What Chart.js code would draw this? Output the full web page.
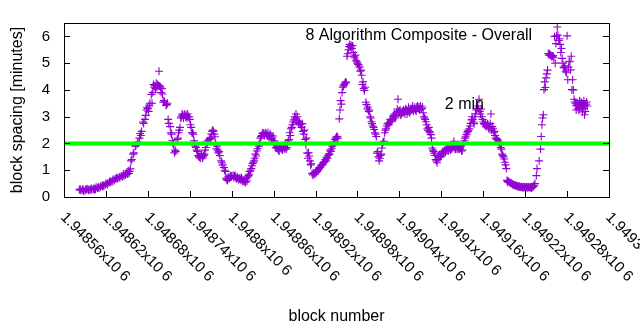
<!DOCTYPE html>
<html>
<head>
<meta charset="utf-8">
<title>Block spacing</title>
<script src="https://cdn.jsdelivr.net/npm/chart.js@4.4.0/dist/chart.umd.min.js"></script>
<style>
    html, body { margin: 0; padding: 0; background: #fff; }
    #wrap { width: 640px; height: 330px; }
</style>
</head>
<body>
<div id="wrap"><canvas id="spacingChart"></canvas></div>
<script>
// block numbers and the spacing (minutes) measured at each block
const blockNumbers = [
    1948582, 1948584, 1948587, 1948590, 1948592, 1948594, 1948596, 1948599, 1948600, 1948603,
    1948605, 1948606, 1948609, 1948610, 1948613, 1948616, 1948617, 1948620, 1948622, 1948625,
    1948626, 1948629, 1948630, 1948633, 1948635, 1948637, 1948639, 1948642, 1948645, 1948646,
    1948649, 1948652, 1948653, 1948655, 1948656, 1948659, 1948662, 1948665, 1948668, 1948669,
    1948670, 1948673, 1948676, 1948678, 1948680, 1948682, 1948685, 1948686, 1948689, 1948690,
    1948692, 1948693, 1948695, 1948696, 1948698, 1948699, 1948700, 1948702, 1948703, 1948706,
    1948708, 1948709, 1948712, 1948713, 1948715, 1948716, 1948718, 1948719, 1948722, 1948723,
    1948725, 1948726, 1948728, 1948729, 1948731, 1948732, 1948733, 1948735, 1948736, 1948738,
    1948739, 1948741, 1948742, 1948743, 1948745, 1948746, 1948748, 1948749, 1948751, 1948752,
    1948753, 1948755, 1948756, 1948758, 1948761, 1948763, 1948765, 1948768, 1948769, 1948772,
    1948773, 1948775, 1948778, 1948779, 1948782, 1948785, 1948786, 1948789, 1948791, 1948793,
    1948796, 1948799, 1948802, 1948804, 1948806, 1948809, 1948811, 1948814, 1948815, 1948818,
    1948819, 1948822, 1948825, 1948828, 1948829, 1948832, 1948835, 1948836, 1948839, 1948842,
    1948844, 1948846, 1948849, 1948851, 1948854, 1948856, 1948858, 1948861, 1948864, 1948865,
    1948868, 1948871, 1948872, 1948875, 1948878, 1948879, 1948882, 1948885, 1948887, 1948889,
    1948892, 1948894, 1948897, 1948899, 1948901, 1948904, 1948907, 1948908, 1948911, 1948914,
    1948915, 1948918, 1948921, 1948922, 1948925, 1948928, 1948929, 1948932, 1948935, 1948937,
    1948939, 1948942, 1948944, 1948947, 1948949, 1948951, 1948954, 1948955, 1948957, 1948958,
    1948961, 1948964, 1948965, 1948967, 1948968, 1948969, 1948971, 1948972, 1948975, 1948977,
    1948978, 1948980, 1948982, 1948985, 1948987, 1948988, 1948990, 1948991, 1948992, 1948994,
    1948997, 1949000, 1949001, 1949004, 1949005, 1949007, 1949008, 1949011, 1949014, 1949015,
    1949018, 1949021, 1949023, 1949025, 1949028, 1949030, 1949033, 1949035, 1949037, 1949038,
    1949040, 1949043, 1949044, 1949047, 1949050, 1949051, 1949054, 1949057, 1949058, 1949061,
    1949064, 1949065, 1949068, 1949071, 1949073, 1949075, 1949078, 1949080, 1949083, 1949085,
    1949087, 1949090, 1949093, 1949094, 1949097, 1949100, 1949101, 1949104, 1949107, 1949108,
    1949111, 1949114, 1949116, 1949118, 1949121, 1949123, 1949126, 1949128, 1949130, 1949133,
    1949136, 1949137, 1949140, 1949143, 1949144, 1949147, 1949150, 1949151, 1949154, 1949157,
    1949158, 1949161, 1949164, 1949166, 1949168, 1949171, 1949173, 1949176, 1949178, 1949180,
    1949183, 1949186, 1949187, 1949190, 1949193, 1949194, 1949195, 1949200, 1949201, 1949204,
    1949207, 1949211, 1949216, 1949219, 1949221, 1949226, 1949230, 1949233, 1949236, 1949237,
    1949240, 1949242, 1949243, 1949244, 1949246, 1949247, 1949249, 1949250, 1949252, 1949253,
    1949256, 1949257, 1949259, 1949262, 1949263, 1949264, 1949266, 1949268, 1949269, 1949272,
    1949273, 1949276, 1949277, 1949279, 1949280, 1949281, 1949283, 1949286, 1949287, 1949288,
    1949290, 1949291, 1949293, 1949293, 1949295, 1949297, 1949297, 1949298, 1949300, 1949300,
    1949302, 1949302, 1949304, 1949305, 1949305, 1949307,
    1948583, 1948586, 1948588, 1948591, 1948595, 1948598, 1948602, 1948604, 1948608, 1948612,
    1948615, 1948619, 1948623, 1948627, 1948632, 1948636, 1948640, 1948644, 1948648, 1948651,
    1948654, 1948657, 1948660, 1948663, 1948666, 1948671, 1948674, 1948677, 1948679, 1948681,
    1948683, 1948687, 1948688, 1948691, 1948694, 1948697, 1948701, 1948704, 1948707, 1948710,
    1948714, 1948717, 1948720, 1948724, 1948727, 1948730, 1948734, 1948737, 1948740, 1948744,
    1948747, 1948750, 1948754, 1948757, 1948759, 1948760, 1948762, 1948764, 1948766, 1948770,
    1948771, 1948774, 1948776, 1948777, 1948780, 1948781, 1948783, 1948787, 1948790, 1948792,
    1948794, 1948795, 1948797, 1948798, 1948800, 1948803, 1948805, 1948807, 1948808, 1948810,
    1948812, 1948813, 1948816, 1948817, 1948820, 1948821, 1948823, 1948824, 1948826, 1948827,
    1948830, 1948831, 1948833, 1948834, 1948837, 1948838, 1948840, 1948841, 1948843, 1948845,
    1948847, 1948848, 1948850, 1948852, 1948853, 1948855, 1948857, 1948859, 1948860, 1948862,
    1948863, 1948866, 1948867, 1948869, 1948870, 1948873, 1948874, 1948876, 1948877, 1948880,
    1948881, 1948883, 1948884, 1948886, 1948888, 1948890, 1948891, 1948893, 1948895, 1948896,
    1948898, 1948900, 1948902, 1948903, 1948905, 1948906, 1948909, 1948910, 1948912, 1948913,
    1948916, 1948917, 1948919, 1948920, 1948923, 1948924, 1948926, 1948927, 1948930, 1948931,
    1948933, 1948934, 1948936, 1948938, 1948940, 1948941, 1948943, 1948945, 1948946, 1948948,
    1948950, 1948952, 1948956, 1948959, 1948960, 1948962, 1948963, 1948966, 1948970, 1948973,
    1948974, 1948976, 1948979, 1948981, 1948983, 1948984, 1948986, 1948989, 1948993, 1948995,
    1948996, 1948998, 1948999, 1949002, 1949003, 1949006, 1949009, 1949010, 1949012, 1949013,
    1949016, 1949017, 1949019, 1949020, 1949022, 1949024, 1949026, 1949027, 1949029, 1949031,
    1949032, 1949034, 1949036, 1949039, 1949041, 1949042, 1949045, 1949046, 1949048, 1949049,
    1949052, 1949053, 1949055, 1949056, 1949059, 1949060, 1949062, 1949063, 1949066, 1949067,
    1949069, 1949070, 1949072, 1949074, 1949076, 1949077, 1949079, 1949081, 1949082, 1949084,
    1949086, 1949088, 1949089, 1949091, 1949092, 1949095, 1949096, 1949098, 1949099, 1949102,
    1949103, 1949105, 1949106, 1949109, 1949110, 1949112, 1949113, 1949115, 1949117, 1949119,
    1949120, 1949122, 1949124, 1949125, 1949127, 1949129, 1949131, 1949132, 1949134, 1949135,
    1949138, 1949139, 1949141, 1949142, 1949145, 1949146, 1949148, 1949149, 1949152, 1949153,
    1949155, 1949156, 1949159, 1949160, 1949162, 1949163, 1949165, 1949167, 1949169, 1949170,
    1949172, 1949174, 1949175, 1949177, 1949179, 1949181, 1949182, 1949184, 1949185, 1949188,
    1949189, 1949191, 1949192, 1949195, 1949196, 1949198, 1949199, 1949202, 1949203, 1949205,
    1949206, 1949208, 1949209, 1949210, 1949212, 1949213, 1949214, 1949215, 1949217, 1949218,
    1949220, 1949222, 1949223, 1949224, 1949225, 1949227, 1949228, 1949229, 1949231, 1949232,
    1949234, 1949245, 1949248, 1949251, 1949254, 1949255, 1949258, 1949260, 1949261, 1949265,
    1949267, 1949270, 1949271, 1949274, 1949275, 1949278, 1949282, 1949284, 1949285, 1949289,
    1949292, 1949294, 1949296, 1949299, 1949301, 1949303, 1949304, 1949306, 1949308, 1949309
];
const spacingMinutes = [
    0.27, 0.25, 0.30, 0.24, 0.28, 0.31, 0.27, 0.32, 0.28, 0.33,
    0.30, 0.36, 0.38, 0.34, 0.42, 0.45, 0.40, 0.50, 0.47, 0.55,
    0.60, 0.58, 0.65, 0.68, 0.72, 0.70, 0.75, 0.78, 0.85, 0.80,
    0.90, 0.98, 0.88, 1.05, 1.35, 1.60, 1.90, 2.00, 2.20, 2.37,
    2.30, 2.80, 2.90, 3.25, 3.30, 3.43, 3.83, 3.50, 4.10, 4.16,
    4.25, 4.10, 4.16, 4.70, 4.10, 3.90, 4.05, 3.54, 3.60, 3.43,
    3.50, 2.90, 2.63, 2.40, 2.10, 2.00, 1.65, 1.75, 2.15, 2.20,
    2.50, 2.60, 3.00, 3.10, 2.95, 3.05, 3.10, 3.05, 2.95, 3.00,
    3.00, 2.70, 2.60, 2.40, 2.35, 2.10, 1.90, 1.85, 1.70, 1.55,
    1.50, 1.45, 1.55, 1.45, 1.60, 1.85, 2.00, 2.15, 2.20, 2.45,
    2.50, 2.35, 1.80, 1.90, 1.70, 1.35, 1.28, 1.10, 0.95, 0.65,
    0.70, 0.75, 0.80, 0.78, 0.72, 0.70, 0.68, 0.72, 0.65, 0.60,
    0.55, 0.60, 0.85, 1.06, 1.17, 1.35, 1.53, 1.72, 1.90, 2.26,
    2.37, 2.35, 2.40, 2.30, 2.26, 2.30, 2.20, 2.10, 1.83, 1.90,
    1.72, 1.80, 1.79, 1.85, 1.79, 1.85, 2.15, 2.55, 2.70, 2.88,
    3.10, 3.00, 2.81, 2.74, 2.74, 2.50, 2.20, 1.64, 1.53, 1.24,
    0.88, 0.85, 0.91, 0.95, 1.06, 1.17, 1.20, 1.30, 1.35, 1.45,
    1.60, 1.70, 1.90, 2.00, 2.20, 2.26, 2.92, 3.25, 3.47, 3.90,
    4.20, 4.27, 5.26, 5.50, 5.62, 5.70, 5.66, 5.55, 5.26, 5.30,
    5.11, 5.00, 4.93, 4.74, 4.20, 4.30, 3.98, 4.10, 3.54, 3.29,
    3.25, 2.81, 2.74, 2.52, 2.40, 2.26, 1.64, 1.35, 1.60, 1.83,
    2.08, 2.55, 2.74, 2.70, 2.81, 2.90, 3.10, 3.00, 3.29, 3.65,
    3.20, 3.10, 3.20, 3.18, 3.25, 3.10, 3.18, 3.25, 3.30, 3.29,
    3.20, 3.36, 3.36, 3.29, 3.36, 3.00, 2.81, 2.55, 2.45, 2.33,
    1.83, 1.64, 1.35, 1.28, 1.50, 1.53, 1.64, 1.70, 1.79, 1.75,
    1.80, 1.79, 1.85, 2.08, 1.79, 1.85, 1.79, 1.90, 1.75, 2.10,
    2.33, 2.40, 2.55, 2.88, 3.00, 2.74, 3.25, 3.30, 3.65, 3.29,
    3.00, 2.74, 2.63, 2.74, 2.55, 3.10, 2.63, 2.45, 2.20, 2.15,
    2.00, 1.79, 1.60, 1.42, 1.06, 0.62, 0.55, 0.51, 0.50, 0.44,
    0.42, 0.40, 0.36, 0.38, 0.36, 0.36, 0.36, 0.44, 0.80, 1.06,
    1.35, 1.79, 2.26, 2.70, 3.07, 4.01, 4.09, 4.45, 4.74, 5.36,
    5.30, 5.29, 5.26, 6.00, 5.00, 5.73, 6.35, 5.85, 5.91, 5.55,
    5.18, 4.82, 4.90, 4.64, 6.02, 4.38, 5.07, 5.26, 4.01, 4.38,
    3.65, 3.55, 3.43, 3.25, 3.47, 3.25, 3.43, 3.60, 3.54, 3.35,
    3.47, 3.18, 3.60, 3.07, 3.43, 3.47,
    0.30, 0.26, 0.22, 0.29, 0.25, 0.28, 0.30, 0.27, 0.33, 0.37,
    0.40, 0.46, 0.52, 0.55, 0.62, 0.68, 0.72, 0.76, 0.82, 0.86,
    0.95, 1.40, 1.65, 1.92, 2.05, 2.45, 2.75, 3.05, 3.35, 3.20,
    3.50, 3.90, 4.20, 4.05, 4.20, 4.15, 3.85, 3.55, 3.45, 2.75,
    2.35, 1.95, 1.70, 2.40, 2.95, 3.05, 3.00, 3.10, 2.90, 2.40,
    2.00, 1.75, 1.50, 1.60, 1.50, 1.55, 1.75, 2.05, 2.10, 2.20,
    2.35, 2.45, 2.25, 2.00, 1.75, 1.65, 1.55, 1.20, 1.00, 0.70,
    0.62, 0.75, 0.70, 0.80, 0.78, 0.73, 0.80, 0.68, 0.75, 0.65,
    0.70, 0.63, 0.58, 0.62, 0.55, 0.68, 0.75, 0.80, 0.95, 1.00,
    1.25, 1.30, 1.45, 1.60, 1.80, 1.95, 2.00, 2.20, 2.30, 2.40,
    2.30, 2.38, 2.32, 2.40, 2.25, 2.35, 2.15, 2.28, 2.05, 1.95,
    1.85, 1.80, 1.75, 1.90, 1.85, 1.75, 1.90, 1.80, 1.95, 2.00,
    2.10, 2.40, 2.30, 2.60, 2.80, 3.00, 2.95, 2.85, 2.80, 2.75,
    2.70, 2.60, 2.45, 2.35, 2.15, 1.95, 1.45, 1.65, 1.35, 1.20,
    0.82, 0.90, 0.85, 0.95, 0.98, 1.02, 1.10, 1.12, 1.22, 1.28,
    1.32, 1.40, 1.48, 1.55, 1.60, 1.75, 1.80, 1.95, 2.05, 2.15,
    2.25, 2.20, 3.60, 4.10, 4.15, 4.25, 4.30, 5.35, 5.60, 5.65,
    5.40, 5.20, 5.05, 4.95, 4.85, 4.70, 4.55, 4.05, 3.45, 3.35,
    3.20, 3.00, 2.95, 2.65, 2.60, 2.35, 1.70, 1.50, 1.45, 1.55,
    2.00, 2.05, 2.40, 2.50, 2.65, 2.75, 2.80, 2.90, 2.85, 3.00,
    3.05, 2.95, 3.15, 3.20, 3.25, 3.05, 3.15, 3.25, 3.10, 3.30,
    3.20, 3.35, 3.15, 3.30, 3.40, 3.20, 3.35, 3.25, 3.40, 3.30,
    3.25, 3.40, 3.30, 3.15, 2.95, 2.90, 2.70, 2.50, 2.60, 2.40,
    2.20, 1.75, 1.70, 1.55, 1.40, 1.40, 1.55, 1.60, 1.50, 1.70,
    1.62, 1.75, 1.68, 1.85, 1.72, 1.88, 1.75, 1.80, 1.95, 1.85,
    1.78, 1.90, 1.78, 1.95, 1.82, 1.72, 1.95, 2.00, 2.20, 2.25,
    2.45, 2.50, 2.65, 2.75, 2.90, 2.80, 3.00, 3.10, 3.40, 3.30,
    3.20, 3.10, 2.90, 2.80, 2.70, 2.75, 2.65, 2.70, 2.60, 2.75,
    2.50, 2.55, 2.40, 2.30, 2.18, 2.10, 2.05, 1.95, 1.85, 1.55,
    1.50, 1.30, 1.20, 0.60, 0.58, 0.55, 0.52, 0.48, 0.46, 0.45,
    0.43, 0.42, 0.40, 0.38, 0.39, 0.37, 0.36, 0.38, 0.35, 0.37,
    0.35, 0.37, 0.35, 0.38, 0.36, 0.35, 0.37, 0.34, 0.38, 0.40,
    0.50, 2.95, 4.30, 4.60, 5.30, 5.35, 5.25, 5.28, 5.20, 6.02,
    6.05, 5.70, 5.40, 5.00, 4.85, 4.70, 4.85, 5.05, 4.75, 4.00,
    3.50, 3.40, 3.30, 3.45, 3.50, 3.30, 3.40, 3.20, 3.55, 3.40
];

// reference line at the 2 minute target
const targetSpacing = 2;

const xTickValues = [
    1948560, 1948620, 1948680, 1948740, 1948800, 1948860, 1948920,
    1948980, 1949040, 1949100, 1949160, 1949220, 1949280, 1949340
];
const xTickLabels = [
    '1.94856x10 6', '1.94862x10 6', '1.94868x10 6', '1.94874x10 6', '1.9488x10 6',
    '1.94886x10 6', '1.94892x10 6', '1.94898x10 6', '1.94904x10 6', '1.9491x10 6',
    '1.94916x10 6', '1.94922x10 6', '1.94928x10 6', '1.94934x10 6'
];
const yTickValues = [0, 1, 2, 3, 4, 5, 6];

const FONT = '"Liberation Sans", Arial, sans-serif';

// gnuplot-like frame: full border, inward ticks, rotated x labels, text labels
const framePlugin = {
    id: 'frame',
    afterDraw(chart) {
        const { ctx, chartArea: a, scales: { x, y } } = chart;
        ctx.save();
        ctx.strokeStyle = '#000';
        ctx.lineWidth = 1;
        ctx.strokeRect(a.left + 0.5, a.top + 0.5, a.right - a.left, a.bottom - a.top);

        ctx.beginPath();
        yTickValues.forEach(v => {
            const py = Math.round(y.getPixelForValue(v)) + 0.5;
            ctx.moveTo(a.left, py); ctx.lineTo(a.left + 6, py);
            ctx.moveTo(a.right, py); ctx.lineTo(a.right - 6, py);
        });
        xTickValues.forEach(v => {
            const px = Math.round(x.getPixelForValue(v)) + 0.5;
            ctx.moveTo(px, a.bottom); ctx.lineTo(px, a.bottom - 6);
        });
        ctx.stroke();

        ctx.fillStyle = '#000';
        ctx.font = '15px ' + FONT;
        ctx.textAlign = 'left';
        ctx.textBaseline = 'middle';
        xTickValues.forEach((v, i) => {
            const px = x.getPixelForValue(v);
            ctx.save();
            ctx.translate(px - 1, a.bottom + 18);
            ctx.rotate(Math.PI / 4);
            ctx.fillText(xTickLabels[i], 0, 0);
            ctx.restore();
        });

        ctx.font = '16px ' + FONT;
        ctx.textAlign = 'right';
        ctx.fillText('8 Algorithm Composite - Overall', x.getPixelForValue(1949230), y.getPixelForValue(6.02));
        ctx.textAlign = 'left';
        ctx.fillText('2 min', x.getPixelForValue(1949105), y.getPixelForValue(3.47));
        ctx.restore();
    }
};

new Chart(document.getElementById('spacingChart'), {
    type: 'scatter',
    data: {
        datasets: [{
            type: 'line',
            data: [
                { x: xTickValues[0], y: targetSpacing },
                { x: xTickValues[xTickValues.length - 1], y: targetSpacing }
            ],
            borderColor: '#00ff00',
            borderWidth: 4,
            pointRadius: 0,
            order: 0
        }, {
            data: blockNumbers.map((b, i) => ({ x: b, y: spacingMinutes[i] })),
            pointStyle: 'cross',
            pointRadius: 4,
            borderColor: '#9400d3',
            borderWidth: 1.1,
            order: 1
        }]
    },
    plugins: [framePlugin],
    options: {
        responsive: true,
        maintainAspectRatio: false,
        animation: false,
        layout: { padding: { top: 19, right: 31, left: 0, bottom: 0 } },
        plugins: { legend: { display: false }, tooltip: { enabled: false } },
        scales: {
            x: {
                type: 'linear',
                min: xTickValues[0],
                max: xTickValues[xTickValues.length - 1],
                ticks: { display: false },
                grid: { display: false, drawTicks: false },
                border: { display: false },
                title: {
                    display: true, text: 'block number', color: '#000',
                    font: { family: FONT, size: 16 }, padding: { top: 4, bottom: 4 }
                },
                afterFit: s => { s.height = 133; }
            },
            y: {
                min: 0,
                max: 6.5,
                afterBuildTicks: s => { s.ticks = yTickValues.map(v => ({ value: v })); },
                ticks: { color: '#000', padding: 14, font: { family: FONT, size: 15 } },
                grid: { display: false, drawTicks: false },
                border: { display: false },
                title: {
                    display: true, text: 'block spacing [minutes]', color: '#000',
                    font: { family: FONT, size: 16 }, padding: { top: 8, bottom: 0 }
                },
                afterFit: s => { s.width = 64; }
            }
        }
    }
});
</script>
</body>
</html>
